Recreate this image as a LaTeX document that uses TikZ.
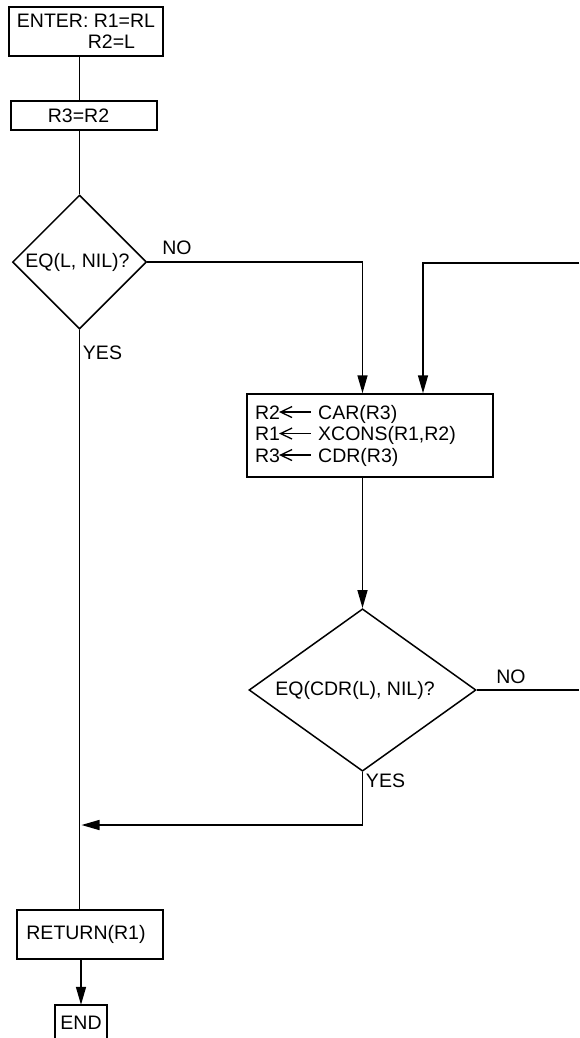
\documentclass[tikz,border=0pt]{standalone}
\usepackage{fontspec}
\setmainfont{Liberation Sans}
\usetikzlibrary{shapes.geometric,arrows.meta}
\newcommand{\flowfont}{\fontsize{19.5pt}{21.5pt}\selectfont}
% assignment arrow used inside the action box
\newcommand{\assignarrow}{\tikz[x=1pt,y=1pt,baseline=0pt]{%
  \draw[line width=1.3pt] (1,7) -- (31,7);
  \draw[line width=1.3pt, miter limit=20] (12,12.5) -- (0.5,7) -- (12,1.5);}}
\begin{document}
\begin{tikzpicture}[x=1pt,y=-1pt,
  box/.style={draw, line width=1.5pt, inner sep=0pt, font=\flowfont},
  test/.style={draw, diamond, line width=1.5pt, inner sep=0pt, font=\flowfont},
  lbl/.style={inner sep=0pt, font=\flowfont},
  flow/.style={line width=1.5pt},
  arr/.style={flow, -{Triangle[length=18pt,width=10pt]}}]
\useasboundingbox (0,0) rectangle (579,1038);

% column positions of the vertical connectors
\coordinate (colx) at (79.5,0);
\coordinate (colr) at (81,0);
\coordinate (col2) at (362.5,0);
\coordinate (loopx) at (423,0);

% boxes and tests
\node[box, minimum width=154pt, minimum height=49pt, align=left] (enter) at (86,31.5)
  {ENTER: R1=RL\\\hspace*{71pt}R2=L};
\node[box, minimum width=146pt, minimum height=29pt] (r3) at (84,115.5)
  {\hspace*{-11pt}R3=R2};
\node[test, minimum width=134pt, minimum height=134pt] (d1) at (79.5,262)
  {\hspace*{-4pt}EQ(L, NIL)?};
\node[box, minimum width=246pt, minimum height=83pt, text width=230pt,
      inner xsep=8pt, align=left] (act) at (370,435.5)
  {R2\assignarrow\ CAR(R3)\\R1\assignarrow\ XCONS(R1,R2)\\R3\assignarrow\ CDR(R3)};
\node[test, minimum width=227pt, minimum height=134pt] (d2) at (362.5,690)
  {\hspace*{-15pt}EQ(CDR(L), NIL)?};
\node[box, minimum width=146pt, minimum height=49pt] (ret) at (90,934.5)
  {\hspace*{-8pt}RETURN(R1)};
\node[lbl, minimum width=52pt, minimum height=35pt] (endb) at (81,1022.5) {END};
\draw[flow] (endb.south west) -- (endb.north west) -- (endb.north east) -- (endb.south east);

% branch labels
\node[lbl] (no1) at (177,248) {NO};
\node[lbl] (yes1) at (102.5,353) {YES};
\node[lbl] (no2) at (511,677) {NO};
\node[lbl] (yes2) at (385.5,781) {YES};

% free ends of the loop and of the merge
\coordinate (loopin) at (579,263);
\coordinate (loopout) at (579,690);
\coordinate (merge) at (81.5,825);

% connectors
\draw[flow] (enter.south -| colx) -- (r3.north -| colx);
\draw[flow] (r3.south -| colx) -- (d1.north);
\draw[flow] (d1.south) -- (ret.north -| colx);
\draw[arr] (d1.east) -| (act.north -| col2);
\draw[arr] (loopin) -| (act.north -| loopx);
\draw[arr] (act.south -| col2) -- (d2.north);
\draw[flow] (d2.east) -- (loopout);
\draw[arr] (d2.south) |- (merge);
\draw[arr] (ret.south -| colr) -- (endb.north);
\end{tikzpicture}
\end{document}
